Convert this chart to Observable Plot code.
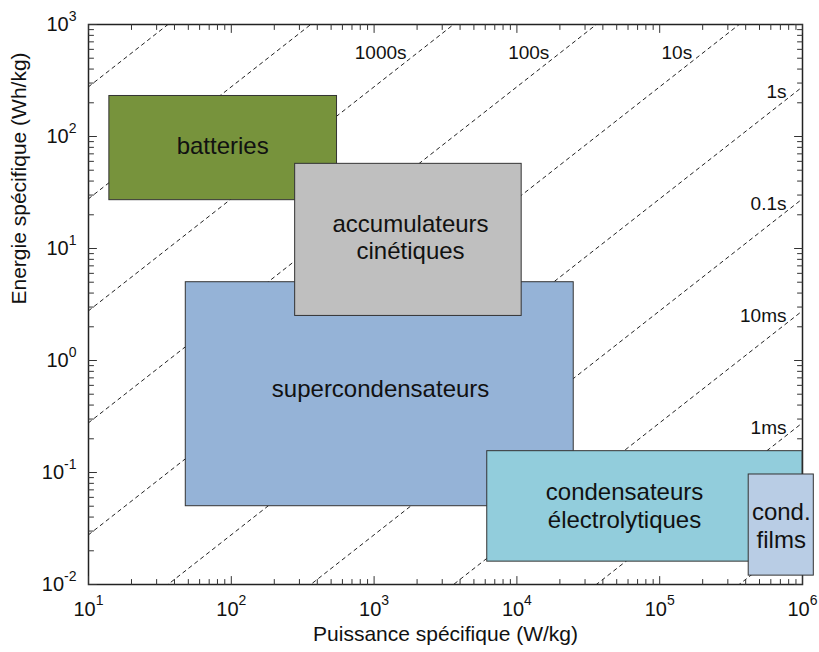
<!DOCTYPE html>
<html><head><meta charset="utf-8">
<script src="https://cdn.jsdelivr.net/npm/d3@7"></script>
<script src="https://cdn.jsdelivr.net/npm/@observablehq/plot@0.6"></script>
<style>body{margin:0;background:#fff} svg{display:block}</style>
</head><body><div id="chart"></div>
<script>
// ---- data ----
const boxNames = ["batteries", "supercondensateurs", "accumulateurs\ncinétiques", "condensateurs\nélectrolytiques", "cond.\nfilms"];
const boxPowerMin = [14, 48, 280, 6200, 4.2e5];        // W/kg
const boxPowerMax = [550, 2.5e4, 1.08e4, 1e6, 1.2e6];
const boxEnergyMin = [27, 0.05, 2.5, 0.016, 0.012];     // Wh/kg
const boxEnergyMax = [230, 5, 57, 0.155, 0.096];
const labelPower = [87, 1110, 1800, 5.67e4, 7.1e5];
const labelEnergy = [83, 0.57, 12.8, 0.051, 0.034];
const isoTimes = [1e5, 1e4, 1e3, 100, 10, 1, 0.1, 0.01, 1e-3, 1e-4]; // seconds
const topLabelTimes = [1000, 100, 10];
const topLabelTexts = ["1000s", "100s", "10s"];
const rightLabelTimes = [1, 0.1, 0.01, 0.001];
const rightLabelTexts = ["1s", "0.1s", "10ms", "1ms"];
const xTicks = [10, 100, 1e3, 1e4, 1e5, 1e6];
const yTicks = [0.01, 0.1, 1, 10, 100, 1000];
const xRange = [10, 1e6];
const yRange = [0.01, 1000];

// ---- styles ----
const boxColors = ["#77933C", "#95B3D7", "#BFBFBF", "#92CDDC", "#B9CDE5"];

// ---- derived tables ----
const boxes = boxNames.map((name, i) => ({name, x1: boxPowerMin[i], x2: boxPowerMax[i], y1: boxEnergyMin[i], y2: boxEnergyMax[i], lx: labelPower[i], ly: labelEnergy[i]}));
const lines = isoTimes.flatMap(t => xRange.map(p => ({t, p, e: p * t / 3600})));
const topLabels = topLabelTimes.map((t, i) => ({p: yRange[1] * 3600 / t, label: topLabelTexts[i]}));
const rightLabels = rightLabelTimes.map((t, i) => ({e: xRange[1] * t / 3600, label: rightLabelTexts[i]}));
const minorX = xTicks.slice(0, -1).flatMap(v => d3.range(2, 10).map(m => m * v));
const minorY = yTicks.slice(0, -1).flatMap(v => d3.range(2, 10).map(m => m * v));

const tickShape = {draw(ctx, l) { ctx.moveTo(0, 0); ctx.lineTo(0, -l); }};
function tickMarks(data, side, length) {
  const horiz = side === "top" || side === "bottom";
  const rotate = {bottom: 0, top: 180, left: 90, right: -90}[side];
  return Plot.vector(data, {
    ...(horiz ? {x: d => d} : {y: d => d}),
    frameAnchor: side, rotate, length, anchor: "start", shape: tickShape,
    stroke: "#333", strokeWidth: 1
  });
}
const allTicks = [];
for (const side of ["bottom", "top"]) { allTicks.push(tickMarks(xTicks, side, 8), tickMarks(minorX, side, 5)); }
for (const side of ["left", "right"]) { allTicks.push(tickMarks(yTicks, side, 8), tickMarks(minorY, side, 5)); }

const chart = Plot.plot({
  width: 819, height: 652,
  marginLeft: 88, marginRight: 17, marginTop: 24, marginBottom: 68,
  style: {fontFamily: "'Liberation Sans', Arial, sans-serif", fontSize: "20px", background: "#fff", color: "#111", overflow: "visible"},
  x: {type: "log", domain: xRange},
  y: {type: "log", domain: yRange},
  color: {domain: boxNames, range: boxColors},
  marks: [
    Plot.line(lines, {x: "p", y: "e", z: "t", stroke: "#222", strokeWidth: 1, strokeDasharray: "3.5,4", clip: true}),
    Plot.frame({stroke: "#222", strokeWidth: 1.5}),
    ...allTicks,
    Plot.rect(boxes, {x1: "x1", x2: "x2", y1: "y1", y2: "y2", fill: "name", stroke: "#333", strokeWidth: 1}),
    Plot.text(boxes, {x: "lx", y: "ly", text: "name", fontSize: 24, lineHeight: 1.15, fill: "#111"}),
    Plot.text(topLabels, {x: "p", frameAnchor: "top", text: "label", textAnchor: "end", dx: -47, dy: 21, fontSize: 19, fill: "#111"}),
    Plot.text(rightLabels, {y: "e", frameAnchor: "right", text: "label", textAnchor: "end", dx: -16, dy: 5, fontSize: 19, fill: "#111"}),
    Plot.axisX(xTicks, {tickSize: 0, tickPadding: 17, fontSize: 20, label: null, tickFormat: d => String(Math.round(Math.log10(d)))}),
    Plot.axisY(yTicks, {tickSize: 0, tickPadding: 12, fontSize: 20, label: null, tickFormat: d => String(Math.round(Math.log10(d)))}),
    Plot.text(["Puissance spécifique (W/kg)"], {text: d => d, frameAnchor: "bottom", dy: 56, fontSize: 21, fill: "#111"}),
    Plot.text(["Energie spécifique (Wh/kg)"], {text: d => d, frameAnchor: "left", dx: -69, rotate: -90, fontSize: 21, fill: "#111"})
  ]
});

d3.select(chart).selectAll('g[aria-label="x-axis tick label"] text').each(function() {
  const t = d3.select(this); const e = t.text();
  t.text("10"); t.append("tspan").attr("dy", -11).attr("font-size", 14).text(e);
});
d3.select(chart).selectAll('g[aria-label="y-axis tick label"] text').each(function() {
  const t = d3.select(this); const e = t.text();
  t.text("10"); t.append("tspan").attr("dy", -10).attr("font-size", 14).text(e);
});
document.getElementById("chart").appendChild(chart);
</script>
</body></html>
